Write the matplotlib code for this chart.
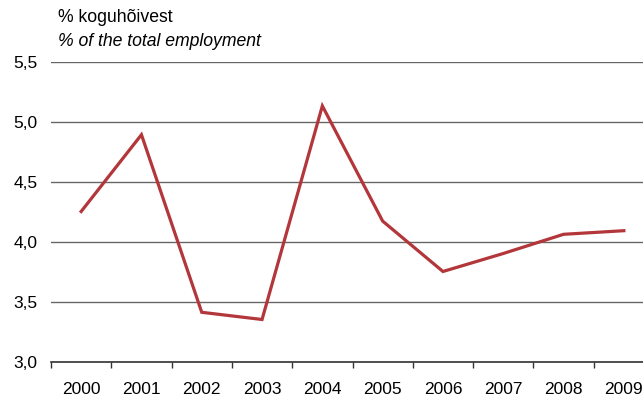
import numpy as np
import matplotlib.pyplot as plt
from matplotlib.ticker import FuncFormatter

plt.rcParams['font.family'] = ['Liberation Sans', 'DejaVu Sans']

years = ['2000', '2001', '2002', '2003', '2004', '2005', '2006', '2007', '2008', '2009']
share = [4.25, 4.89, 3.41, 3.35, 5.13, 4.17, 3.75, 3.90, 4.06, 4.09]

fig = plt.figure(figsize=(6.43, 3.99), dpi=100)
# plot area runs a bit past the right edge, like the original
ax = fig.add_axes([51 / 643, 37.5 / 399, 603 / 643, 300 / 399])

x = np.arange(len(years))
ax.plot(x, share, color='#B3363A', lw=2.3, solid_joinstyle='miter', zorder=3)

ax.set_xlim(-0.5, len(years) - 0.5)
ax.set_ylim(3.0, 5.5)
ax.set_yticks([3.0, 3.5, 4.0, 4.5, 5.0, 5.5])
ax.yaxis.set_major_formatter(FuncFormatter(lambda v, p: ('%.1f' % v).replace('.', ',')))
ax.grid(axis='y', color='#666666', lw=1.0)
ax.set_axisbelow(True)

ax.set_xticks(x)
ax.set_xticklabels(years)
ax.set_xticks(np.arange(len(years) + 1) - 0.5, minor=True)
ax.tick_params(axis='x', which='major', length=0, pad=14.5, labelsize=12.5)
ax.tick_params(axis='x', which='minor', length=4, width=1, color='#333333', direction='out')
ax.tick_params(axis='y', length=0, pad=9.5, labelsize=12.5)

for s in ['top', 'right', 'left']:
    ax.spines[s].set_visible(False)
ax.spines['bottom'].set_color('#333333')
ax.spines['bottom'].set_linewidth(1.2)

fig.text(58 / 643, 1 - 18 / 399, '% koguhõivest', fontsize=12.7, va='center')
fig.text(58 / 643, 1 - 41 / 399, '% of the total employment', fontsize=12.7,
         style='italic', va='center')

fig.savefig('out.png', dpi=100)
